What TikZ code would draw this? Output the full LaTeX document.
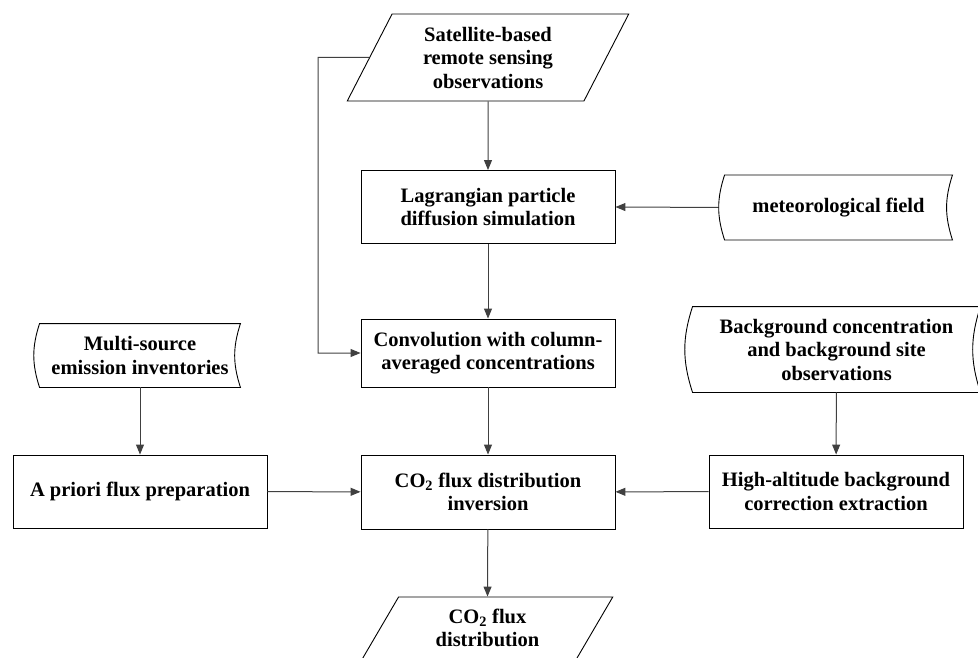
\documentclass[tikz,border=0pt]{standalone}
\usepackage{fontspec}
\setmainfont{Liberation Serif}
\usetikzlibrary{shapes.geometric,arrows.meta}
\tikzset{
  box/.style={draw, minimum width=254pt, minimum height=74pt, align=center, inner sep=2pt},
  io/.style={draw, trapezium, trapezium stretches=true, align=center, inner sep=0pt},
  store/.style={minimum height=64pt, align=center, inner sep=0pt},
  arr/.style={-{Triangle[length=10pt,width=8pt]}, draw=black!75, line width=1pt}
}
\newcommand{\storeshape}[1]{\draw (#1.north west) to[bend right=18] (#1.south west) -- (#1.south east) to[bend left=18] (#1.north east) -- cycle;}

\begin{document}
\begin{tikzpicture}[x=1pt,y=-1pt,line width=0.9pt,
  every node/.style={font=\fontsize{20.5}{23.5}\selectfont\bfseries}]
  \clip (0,0) rectangle (978,658);
  \useasboundingbox (0,0) rectangle (978,658);
  % middle column
  \node[io, minimum width=282pt, minimum height=87pt,
    trapezium left angle=63.7, trapezium right angle=116.3] (sat) at (488,57.5)
    {Satellite-based\\remote sensing\\observations};
  \node[box, minimum height=73pt] (lag) at (488,207) {Lagrangian particle\\diffusion simulation};
  \node[box, minimum height=68pt] (conv) at (488,353) {Convolution with column-\\averaged concentrations};
  \node[box] (inv) at (488,492) {CO\textsubscript{2} flux distribution\\inversion};
  \node[io, minimum width=251pt, minimum height=62pt,
    trapezium left angle=61, trapezium right angle=119] (out) at (487.5,628)
    {CO\textsubscript{2} flux\\distribution};
  % left column
  \node[store, minimum width=200pt, minimum height=63pt] (multi) at (140,355.5)
    {Multi-source\\emission inventories};
  \node[box, minimum height=73pt] (prior) at (140,491.5) {A priori flux preparation};
  % right column
  \node[store, minimum width=227pt] (met) at (838.5,207.5) {meteorological field};
  \node[store, minimum width=287pt, minimum height=85pt] (back) at (836.5,349.5)
    {Background concentration\\and background site\\observations};
  \node[box, minimum height=73pt] (high) at (836,491.5)
    {High-altitude background\\correction extraction};
  \storeshape{multi}
  \storeshape{met}
  \storeshape{back}
  \coordinate (loop) at (318,57.5);

  \draw[arr] (sat.south) -- (lag.north);
  \draw[arr] (lag) -- (conv);
  \draw[arr] (conv) -- (inv);
  \draw[arr] (inv) -- (out.north);
  \draw[arr] (multi) -- (prior);
  \draw[arr] (back) -- (high);
  \draw[arr] (prior) -- (inv);
  \draw[arr] (high) -- (inv);
  \draw[arr, shorten <=6pt] (met.west) -- (lag.east);
  \draw[arr] (sat.west) -- (loop) |- (conv.west);
\end{tikzpicture}
\end{document}
